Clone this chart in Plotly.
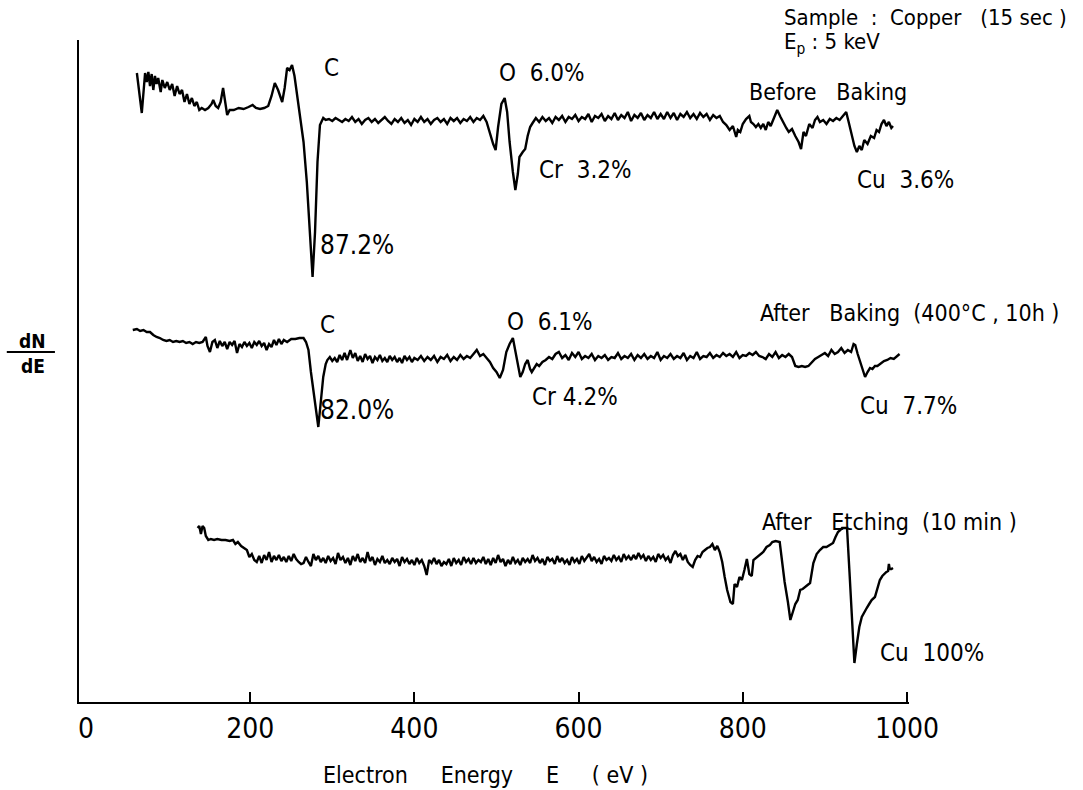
import plotly.graph_objects as go

# ---------------- data (E in eV, dN/dE in arbitrary display units) ----------------
before_E = [62, 64, 68, 72, 74, 76, 78, 80, 82, 84, 86, 88, 91, 93, 96, 99, 102, 105, 108, 111,
            114, 117, 120, 123, 126, 129, 132, 135, 138, 141, 145, 149, 153, 155, 158, 161, 164, 167, 170, 172,
            175, 180, 186, 192, 198, 203, 207, 212, 217, 222, 226, 230, 234, 239, 242, 245, 248, 251, 254, 258,
            261, 265, 269, 272, 276, 279, 282, 285, 289, 292, 296, 300, 304, 308, 312, 316, 320, 324, 328, 332,
            336, 340, 344, 348, 352, 356, 360, 364, 368, 372, 376, 380, 384, 388, 392, 396, 400, 404, 408, 412,
            416, 420, 424, 428, 432, 436, 440, 444, 448, 452, 456, 460, 464, 468, 472, 476, 480, 484, 488, 492,
            496, 499, 502, 506, 510, 513, 516, 520, 523, 526, 528, 532, 535, 538, 541, 544, 548, 552, 556, 560,
            564, 568, 572, 576, 580, 584, 588, 592, 596, 600, 604, 608, 612, 616, 620, 624, 628, 632, 636, 640,
            644, 648, 652, 656, 660, 664, 668, 672, 676, 680, 684, 688, 692, 696, 700, 704, 708, 712, 716, 720,
            724, 728, 732, 736, 740, 744, 748, 752, 756, 760, 764, 768, 772, 776, 780, 784, 788, 792, 794, 797,
            800, 804, 808, 810, 813, 816, 819, 822, 825, 828, 831, 834, 838, 842, 846, 850, 853, 856, 860, 864,
            868, 871, 874, 877, 881, 885, 888, 891, 894, 898, 902, 906, 910, 914, 918, 922, 926, 929, 932, 936,
            939, 942, 945, 948, 952, 956, 960, 963, 966, 969, 972, 975, 978, 981, 983]
before_S = [629, 615, 589, 629, 620, 630, 616, 628, 612, 626, 618, 624, 610, 622, 614, 620, 612, 618, 606, 616,
            608, 612, 600, 608, 598, 604, 596, 600, 592, 594, 592, 594, 598, 602, 596, 594, 600, 614, 596, 587,
            592, 592, 594, 593, 595, 597, 594, 593, 594, 596, 606, 619, 612, 600, 614, 634, 632, 637, 626, 602,
            585, 560, 520, 480, 425, 470, 540, 577, 584, 582, 583, 581, 584, 582, 580, 583, 581, 585, 580, 583,
            578, 582, 584, 580, 583, 579, 582, 585, 581, 578, 583, 580, 584, 579, 582, 577, 583, 580, 585, 580,
            583, 578, 582, 584, 580, 583, 578, 584, 581, 584, 579, 583, 581, 585, 580, 584, 582, 586, 580, 568,
            558, 552, 575, 598, 604, 590, 560, 530, 512, 528, 545, 550, 553, 566, 575, 579, 584, 580, 585, 581,
            584, 579, 585, 582, 586, 580, 585, 583, 587, 581, 585, 583, 588, 580, 586, 584, 588, 581, 586, 583,
            589, 582, 587, 584, 590, 581, 587, 584, 589, 582, 587, 584, 590, 583, 588, 583, 590, 584, 589, 582,
            588, 585, 590, 584, 588, 583, 589, 585, 588, 582, 587, 584, 586, 580, 577, 572, 576, 565, 572, 570,
            578, 583, 586, 580, 578, 575, 578, 574, 578, 572, 580, 576, 585, 592, 585, 578, 574, 570, 573, 566,
            560, 553, 570, 566, 578, 574, 582, 585, 580, 582, 578, 583, 581, 584, 582, 586, 590, 580, 570, 556,
            550, 556, 552, 562, 558, 566, 564, 572, 570, 578, 582, 576, 580, 574, 576]

baked_E = [57, 62, 66, 70, 74, 78, 82, 86, 90, 94, 98, 102, 106, 110, 114, 118, 122, 126, 130, 134,
           138, 142, 146, 148, 151, 154, 157, 160, 163, 166, 169, 172, 175, 178, 181, 184, 187, 190, 193, 196,
           199, 202, 205, 208, 211, 214, 217, 220, 223, 226, 229, 232, 235, 238, 241, 245, 250, 255, 260, 265,
           268, 271, 274, 277, 280, 283, 286, 289, 292, 294, 297, 300, 303, 306, 309, 312, 315, 318, 322, 325,
           328, 331, 334, 337, 340, 343, 346, 349, 352, 355, 358, 361, 364, 367, 370, 373, 376, 379, 382, 385,
           388, 391, 394, 397, 400, 404, 408, 412, 416, 420, 424, 428, 432, 436, 440, 444, 448, 452, 456, 460,
           464, 468, 472, 476, 480, 484, 488, 492, 496, 500, 504, 508, 512, 516, 520, 523, 526, 529, 532, 535,
           538, 541, 543, 546, 549, 552, 556, 560, 564, 568, 572, 576, 580, 584, 588, 592, 596, 600, 604, 608,
           612, 616, 620, 624, 628, 632, 636, 640, 644, 648, 652, 656, 660, 664, 668, 672, 676, 680, 684, 688,
           692, 696, 700, 704, 708, 712, 716, 720, 724, 728, 732, 736, 740, 744, 748, 752, 756, 760, 764, 768,
           772, 776, 780, 784, 788, 792, 796, 800, 804, 808, 812, 816, 820, 824, 828, 832, 836, 840, 844, 848,
           852, 856, 860, 864, 868, 872, 876, 880, 884, 888, 892, 896, 900, 904, 908, 912, 916, 920, 924, 928,
           932, 935, 937, 940, 943, 946, 949, 952, 955, 958, 961, 964, 968, 972, 976, 980, 984, 988, 991]
baked_S = [372, 373, 371, 372, 370, 370, 367, 365, 364, 362, 361, 362, 360, 361, 360, 361, 359, 360, 358, 360,
           359, 360, 365, 356, 350, 360, 362, 354, 361, 356, 360, 353, 360, 357, 361, 349, 358, 355, 360, 356,
           359, 354, 360, 357, 361, 356, 359, 352, 358, 355, 362, 357, 363, 358, 362, 360, 363, 363, 364, 364,
           360, 352, 330, 310, 290, 275, 300, 325, 338, 342, 345, 341, 344, 340, 347, 342, 349, 342, 352, 344,
           349, 341, 346, 340, 348, 343, 346, 339, 345, 342, 347, 341, 344, 340, 346, 342, 345, 340, 344, 339,
           346, 342, 345, 340, 344, 342, 346, 341, 345, 342, 346, 340, 345, 343, 347, 341, 345, 342, 347, 343,
           346, 344, 348, 352, 346, 348, 344, 340, 334, 330, 324, 332, 350, 358, 364, 350, 335, 325, 330, 338,
           342, 333, 330, 334, 338, 336, 340, 342, 345, 343, 348, 350, 344, 347, 342, 349, 345, 350, 343, 346,
           344, 348, 342, 346, 344, 347, 342, 345, 344, 349, 343, 346, 344, 348, 342, 347, 344, 348, 343, 346,
           344, 350, 342, 346, 344, 348, 343, 346, 344, 349, 342, 346, 344, 350, 343, 346, 345, 349, 344, 347,
           345, 349, 346, 348, 345, 350, 344, 347, 346, 349, 347, 350, 346, 345, 343, 348, 345, 350, 344, 347,
           345, 348, 345, 336, 335, 336, 335, 336, 340, 343, 345, 347, 349, 346, 352, 348, 350, 354, 349, 352,
           350, 358, 357, 348, 340, 333, 325, 330, 334, 333, 336, 336, 339, 341, 342, 344, 343, 346, 348]

etched_E = [136, 138, 140, 142, 144, 146, 149, 152, 156, 160, 165, 170, 175, 179, 182, 185, 189, 192, 196, 199,
            202, 205, 208, 211, 214, 217, 220, 223, 226, 229, 232, 235, 238, 241, 244, 247, 250, 253, 256, 259,
            262, 265, 268, 271, 274, 277, 280, 283, 286, 289, 292, 295, 298, 301, 304, 307, 310, 313, 316, 319,
            322, 325, 328, 331, 334, 337, 340, 343, 346, 349, 352, 355, 358, 361, 364, 367, 370, 373, 376, 379,
            382, 385, 388, 391, 394, 397, 400, 403, 406, 409, 412, 415, 418, 421, 424, 427, 430, 433, 436, 439,
            442, 445, 448, 451, 454, 457, 460, 463, 466, 469, 472, 475, 478, 481, 484, 487, 490, 493, 496, 499,
            502, 505, 508, 511, 514, 517, 520, 523, 526, 529, 532, 535, 538, 541, 544, 547, 550, 553, 556, 559,
            562, 565, 568, 571, 574, 577, 580, 583, 586, 589, 592, 595, 598, 601, 604, 607, 610, 613, 616, 619,
            622, 625, 628, 631, 634, 637, 640, 643, 646, 649, 652, 655, 658, 661, 664, 667, 670, 673, 676, 679,
            682, 685, 688, 691, 694, 697, 700, 703, 706, 709, 712, 715, 718, 721, 724, 727, 730, 733, 736, 739,
            742, 745, 748, 751, 754, 757, 760, 763, 766, 769, 772, 775, 778, 781, 785, 788, 790, 793, 796, 799,
            802, 805, 808, 811, 813, 817, 821, 825, 829, 833, 836, 840, 845, 848, 851, 855, 858, 861, 864, 867,
            870, 873, 877, 882, 886, 890, 894, 898, 902, 906, 910, 913, 916, 919, 921, 924, 927, 930, 933, 936,
            939, 942, 945, 948, 951, 954, 957, 961, 964, 967, 970, 973, 975, 977, 978, 979, 981, 983]
etched_S = [174, 176, 168, 176, 174, 166, 162, 163, 162, 163, 162, 162, 161, 162, 158, 160, 156, 154, 152, 145,
            148, 142, 140, 146, 139, 147, 142, 150, 140, 146, 142, 147, 141, 145, 140, 146, 141, 148, 143, 140,
            138, 139, 145, 140, 136, 148, 142, 146, 140, 144, 139, 146, 141, 144, 138, 149, 142, 145, 139, 144,
            137, 146, 141, 148, 140, 144, 139, 150, 141, 145, 137, 143, 140, 146, 139, 142, 138, 144, 140, 143,
            136, 145, 140, 143, 138, 142, 137, 144, 139, 142, 136, 127, 142, 139, 144, 138, 142, 136, 140, 138,
            143, 136, 144, 139, 142, 137, 145, 140, 143, 138, 144, 139, 142, 140, 145, 138, 143, 137, 144, 139,
            147, 140, 143, 136, 142, 138, 145, 139, 142, 137, 144, 140, 143, 139, 147, 141, 144, 139, 143, 137,
            145, 141, 143, 138, 146, 140, 144, 139, 142, 137, 145, 140, 143, 138, 146, 141, 144, 148, 141, 145,
            140, 143, 138, 146, 142, 144, 141, 147, 142, 145, 140, 148, 143, 146, 142, 147, 143, 149, 144, 147,
            141, 146, 142, 145, 140, 148, 144, 147, 142, 145, 139, 147, 151, 146, 148, 142, 147, 140, 137, 135,
            142, 146, 145, 150, 152, 154, 155, 158, 152, 156, 150, 140, 125, 112, 100, 98, 118, 115, 125, 122,
            132, 143, 128, 126, 142, 145, 147, 150, 155, 157, 160, 161, 160, 140, 120, 100, 82, 90, 98, 102,
            112, 113, 116, 119, 139, 148, 152, 155, 155, 157, 159, 165, 170, 172, 174, 174, 174, 130, 80, 39,
            58, 75, 85, 90, 94, 98, 102, 105, 114, 122, 126, 129, 130, 131, 138, 133, 133, 134]

tick_vals = [0, 200, 400, 600, 800, 1000]
tick_text = ["0", "200", "400", "600", "800", "1000"]

X_RANGE = [-8.5, 1002.5]
Y_RANGE = [0, 662]

FONT = "DejaVu Sans Condensed, Liberation Sans Narrow, Arial Narrow, sans-serif"
NB = "\u00a0"


def px_(e):
    return (e - X_RANGE[0]) / (X_RANGE[1] - X_RANGE[0])


def py_(v):
    return (v - Y_RANGE[0]) / (Y_RANGE[1] - Y_RANGE[0])


fig = go.Figure()
for E, S in [(before_E, before_S), (baked_E, baked_S), (etched_E, etched_S)]:
    fig.add_trace(go.Scatter(x=E, y=S, mode="lines", line=dict(color="black", width=2.4),
                             showlegend=False, hoverinfo="skip"))

labels = [
    # (text, x in eV units, y in display units, size)
    ("Sample" + NB * 2 + ":" + NB * 2 + "Copper" + NB * 3 + "(15" + NB + "sec" + NB + ")", 848, 684, 22),
    ("E<sub>p</sub>" + NB + ":" + NB + "5" + NB + "keV", 848, 659, 22),
    ("Before" + NB * 3 + "Baking", 805, 610, 23),
    ("C", 287, 634, 24),
    ("O" + NB * 2 + "6.0%", 501, 629, 24),
    ("Cr" + NB * 2 + "3.2%", 549, 532, 24),
    ("Cu" + NB * 2 + "3.6%", 937, 522, 24),
    ("87.2%", 283, 457, 26),
    ("C", 283, 377, 24),
    ("O" + NB * 2 + "6.1%", 510, 380, 24),
    ("After" + NB * 3 + "Baking" + NB * 2 + "(400°C" + NB + "," + NB + "10h" + NB + ")", 818, 389, 23),
    ("Cr" + NB + "4.2%", 541, 305, 24),
    ("Cu" + NB * 2 + "7.7%", 940, 296, 24),
    ("82.0%", 283, 292, 26),
    ("After" + NB * 3 + "Etching" + NB * 2 + "(10" + NB + "min" + NB + ")", 821, 180, 23),
    ("Cu" + NB * 2 + "100%", 965, 49, 24),
]
for txt, x, y, sz in labels:
    fig.add_annotation(x=px_(x), y=py_(y), xref="paper", yref="paper", text=txt, showarrow=False,
                       xanchor="left", yanchor="middle", font=dict(family=FONT, size=sz, color="black"))

# dN/dE y-axis label
fig.add_annotation(x=-0.056, y=0.546, xref="paper", yref="paper", text="<b>dN</b>", showarrow=False,
                   xanchor="center", yanchor="middle", font=dict(family=FONT, size=19, color="black"))
fig.add_annotation(x=-0.056, y=0.508, xref="paper", yref="paper", text="<b>dE</b>", showarrow=False,
                   xanchor="center", yanchor="middle", font=dict(family=FONT, size=19, color="black"))
fig.add_shape(type="line", xref="paper", yref="paper", x0=-0.087, x1=-0.029, y0=0.5287, y1=0.5287,
              line=dict(color="black", width=2))

# x-axis title
fig.add_annotation(x=0.49, y=-0.11, xref="paper", yref="paper",
                   text="Electron" + NB * 5 + "Energy" + NB * 5 + "E" + NB * 5 + "(" + NB + "eV" + NB + ")",
                   showarrow=False, xanchor="center", yanchor="middle",
                   font=dict(family=FONT, size=23, color="black"))

fig.update_layout(
    width=1083, height=790,
    margin=dict(l=79, r=174, t=40, b=88),
    paper_bgcolor="white", plot_bgcolor="white",
    xaxis=dict(range=X_RANGE, showgrid=False, zeroline=False,
               showline=True, linecolor="black", linewidth=2,
               tickmode="array", tickvals=tick_vals, ticktext=tick_text, ticks="",
               tickfont=dict(family=FONT, size=28, color="black"),
               minor=dict(tickvals=tick_vals[1:], ticks="inside", ticklen=10,
                          tickcolor="black", tickwidth=1.5)),
    yaxis=dict(range=Y_RANGE, showgrid=False, zeroline=False, showticklabels=False,
               showline=True, linecolor="black", linewidth=2, ticks=""),
)

fig.write_html("out.html")
